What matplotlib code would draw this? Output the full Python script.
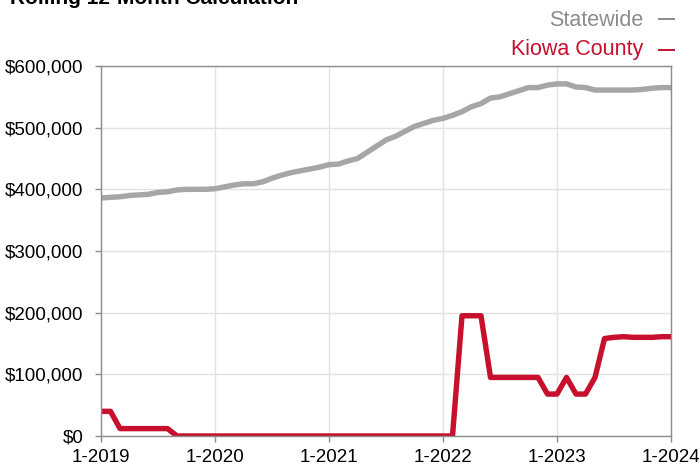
import matplotlib.pyplot as plt
from matplotlib.lines import Line2D
from matplotlib.ticker import FuncFormatter

plt.rcParams['font.family'] = ['Liberation Sans', 'DejaVu Sans']

# monthly values, 1-2019 .. 1-2024 (61 months)
statewide = [386000, 387000, 388000, 390000, 391000, 392000, 395000, 396000,
             399000, 400000, 400000, 400000, 401000, 404000, 407000, 409000,
             409000, 412000, 418000, 423000, 427000, 430000, 433000, 436000,
             440000, 441000, 446000, 450000, 460000, 470000, 480000, 486000,
             494000, 502000, 507000, 512000, 515000, 520000, 526000, 534000,
             539000, 548000, 550000, 555000, 560000, 565000, 565000, 569000,
             571000, 571000, 566000, 565000, 561000, 561000, 561000, 561000,
             561000, 562000, 564000, 565000, 565000]
kiowa = [40000, 40000, 12000, 12000, 12000, 12000, 12000, 12000,
         0, 0, 0, 0, 0, 0, 0, 0, 0, 0, 0, 0, 0, 0, 0, 0, 0, 0, 0, 0,
         0, 0, 0, 0, 0, 0, 0, 0, 0, 0,
         195000, 195000, 195000, 95000, 95000, 95000, 95000, 95000, 95000,
         68000, 68000, 95000, 68000, 68000, 95000, 158000, 160000, 161000,
         160000, 160000, 160000, 161000, 161000]
year_labels = ['1-2019', '1-2020', '1-2021', '1-2022', '1-2023', '1-2024']

GRAY = '#a6a6a6'
RED = '#c8102e'

fig = plt.figure(figsize=(6.99, 4.66), dpi=100)
ax = fig.add_axes([101 / 699, 30 / 466, 570 / 699, 370 / 466])

months = range(len(statewide))
ax.plot(months, statewide, color=GRAY, lw=3.9, solid_joinstyle='round',
        solid_capstyle='butt')
ax.plot(months, kiowa, color=RED, lw=3.9, solid_joinstyle='round',
        solid_capstyle='butt')

ax.set_xlim(0, 60)
ax.set_ylim(0, 600000)
ax.set_xticks(range(0, 61, 12))
ax.set_xticklabels(year_labels)
ax.set_yticks(range(0, 600001, 100000))
ax.yaxis.set_major_formatter(FuncFormatter(lambda v, p: '${:,.0f}'.format(v)))

ax.grid(True, color='#e2e2e2', lw=1)
ax.set_axisbelow(True)
for s in ax.spines.values():
    s.set_color('#8c8c8c')
    s.set_linewidth(1)
ax.tick_params(axis='both', colors='#8c8c8c', labelcolor='black',
               labelsize=13.5, length=4.5, width=1)
ax.tick_params(axis='y', pad=8)
ax.tick_params(axis='x', pad=5)

# title (cut off at top in the original)
fig.text(10 / 699, 1 - 4 / 466, 'Rolling 12-Month Calculation',
         fontsize=15, fontweight='bold', va='baseline', ha='left')

# legend text at top right, with a short dash after each name
fig.text(643 / 699, 1 - 26 / 466, 'Statewide', color='#8c8c8c',
         fontsize=15.5, ha='right', va='baseline')
fig.text(643 / 699, 1 - 55 / 466, 'Kiowa County', color=RED,
         fontsize=15.5, ha='right', va='baseline')
for yy, col in [(18.5, '#8c8c8c'), (50, RED)]:
    fig.add_artist(Line2D([659 / 699, 674 / 699], [1 - yy / 466] * 2,
                          color=col, lw=1.4, transform=fig.transFigure))

fig.savefig('out.png', dpi=100)
